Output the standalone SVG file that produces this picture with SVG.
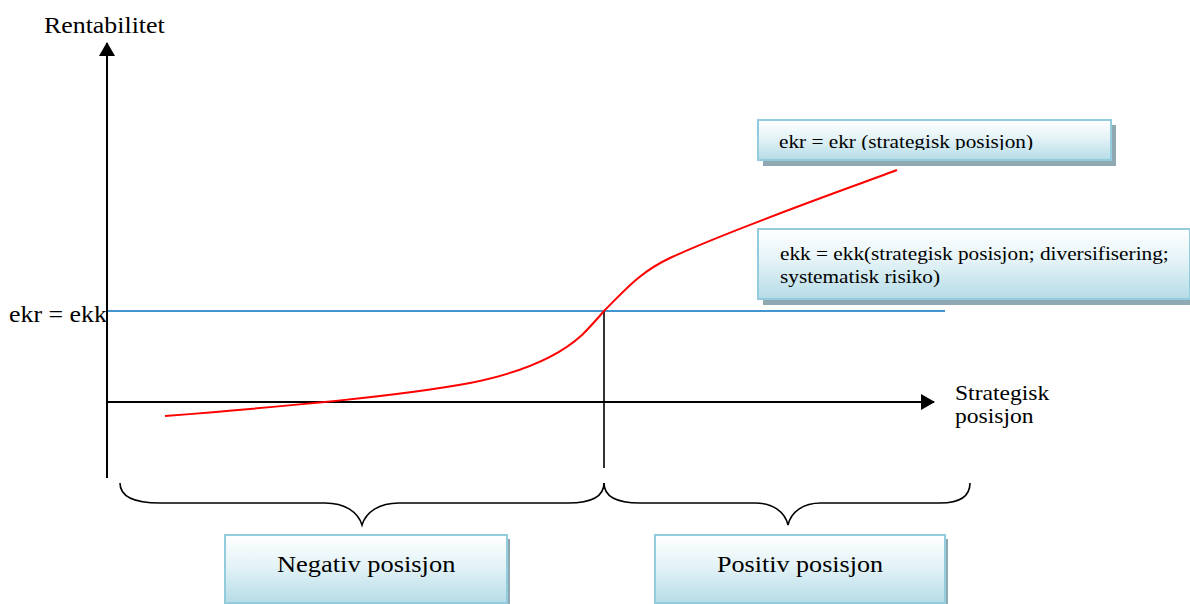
<svg xmlns="http://www.w3.org/2000/svg" width="1190" height="604" viewBox="0 0 1190 604">
  <style>
    .t { font-family: "Liberation Serif", "Times New Roman", serif; fill: #000; }
    .box { fill: url(#boxFill); stroke: #93cddd; stroke-width: 2; }
    .shadow { fill: #8fa8b2; }
    .axis { stroke: #000; stroke-width: 2; fill: none; }
    .brace { stroke: #000; stroke-width: 1.6; fill: none; }
  </style>
  <defs>
    <linearGradient id="boxFill" x1="0" y1="0" x2="0" y2="1">
      <stop offset="0" stop-color="#ffffff"/>
      <stop offset="0.45" stop-color="#e4f3f7"/>
      <stop offset="1" stop-color="#b5dce7"/>
    </linearGradient>
    <marker id="arrow" viewBox="0 0 14 16" refX="13" refY="8" markerWidth="14" markerHeight="16" markerUnits="userSpaceOnUse" orient="auto">
      <path d="M0,0 L14,8 L0,16 Z" fill="#000"/>
    </marker>
    <clipPath id="clipTop">
      <rect x="758" y="120" width="353" height="30"/>
    </clipPath>
  </defs>

  <rect width="1190" height="604" fill="#fff"/>

  <!-- axis titles and level label -->
  <text class="t" font-size="22.5" transform="translate(44,33) scale(1.15,1)">Rentabilitet</text>
  <text class="t" font-size="22.5" transform="translate(9,322) scale(1.15,1)">ekr = ekk</text>
  <text class="t" font-size="20.5" transform="translate(955,400) scale(1.15,1)">Strategisk</text>
  <text class="t" font-size="20.5" transform="translate(955,423) scale(1.15,1)">posisjon</text>

  <g id="connectors">
    <!-- horizontal level ekr = ekk -->
    <line x1="107" y1="311" x2="945" y2="311" stroke="#0070c0" stroke-width="1.6"/>
    <!-- axes -->
    <line class="axis" x1="107" y1="478" x2="107" y2="43" marker-end="url(#arrow)"/>
    <line class="axis" x1="107" y1="402" x2="934" y2="402" marker-end="url(#arrow)"/>
    <!-- break-even drop line -->
    <line x1="604" y1="311" x2="604" y2="468" stroke="#000" stroke-width="1.6"/>
    <!-- return curve -->
    <path d="M165,416 C290,406 400,396 470,383 C520,373 558,357 582,335 C592,325 598,318 604,311 C625,290 640,272 670,258 C730,230 830,195 897,170" fill="none" stroke="#ff0000" stroke-width="2"/>
    <!-- braces -->
    <path class="brace" d="M120,483 C120,497 135,503 160,503 L325,503 C345,503 358,512 362,525 C366,512 379,503 399,503 L568,503 C590,503 604,497 604,483"/>
    <path class="brace" d="M604,483 C604,497 618,503 640,503 L755,503 C773,503 785,512 788,525 C791,512 803,503 821,503 L940,503 C960,503 970,497 970,483"/>
  </g>

  <g id="ekr-box">
    <rect class="shadow" x="763" y="125" width="353" height="41"/>
    <rect class="box" x="758" y="120" width="353" height="40"/>
    <g clip-path="url(#clipTop)">
      <text class="t" font-size="18.5" transform="translate(779,148) scale(1.15,1)">ekr = ekr (strategisk posisjon)</text>
    </g>
  </g>

  <g id="ekk-box">
    <rect class="shadow" x="763" y="234" width="430" height="71"/>
    <rect class="box" x="758" y="229" width="432" height="70"/>
    <text class="t" font-size="18.5" transform="translate(780,260) scale(1.15,1)">ekk = ekk(strategisk posisjon; diversifisering;</text>
    <text class="t" font-size="18.5" transform="translate(780,283) scale(1.15,1)">systematisk risiko)</text>
  </g>

  <g id="negativ">
    <rect class="shadow" x="229" y="539" width="281" height="70"/>
    <rect class="box" x="225" y="535" width="282" height="68"/>
    <text class="t" font-size="23" transform="translate(277,572) scale(1.15,1)">Negativ posisjon</text>
  </g>

  <g id="positiv">
    <rect class="shadow" x="659" y="539" width="289" height="70"/>
    <rect class="box" x="655" y="535" width="290" height="68"/>
    <text class="t" font-size="22.7" transform="translate(717,572) scale(1.15,1)">Positiv posisjon</text>
  </g>
</svg>
